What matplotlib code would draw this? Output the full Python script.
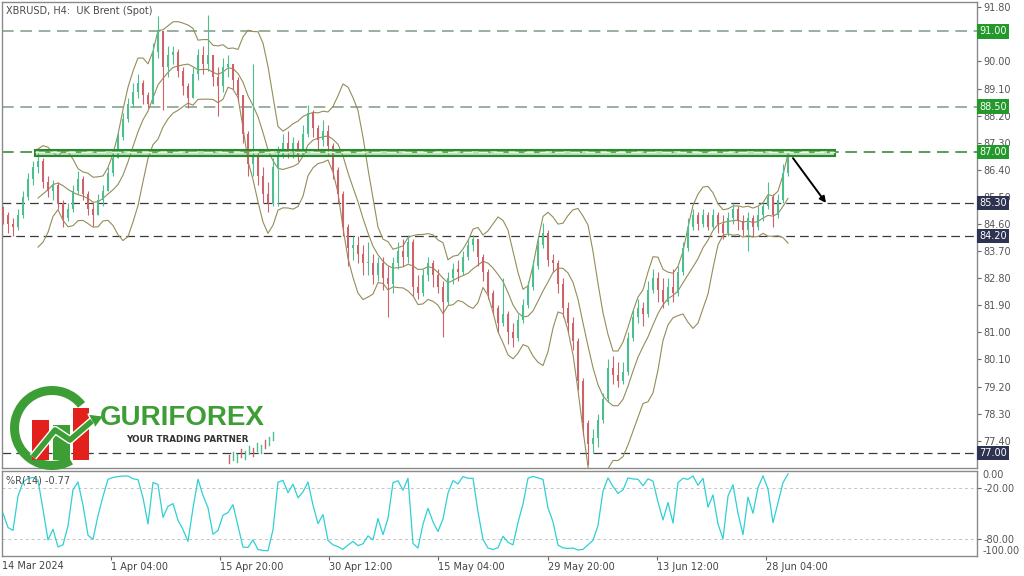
import numpy as np
import matplotlib
matplotlib.use("Agg")
import matplotlib.pyplot as plt
import matplotlib.transforms as mtransforms
import matplotlib.patheffects as pe
from matplotlib.patches import Rectangle, Wedge, Polygon

# ---------------- data ----------------
symbol_title = "XBRUSD, H4:  UK Brent (Spot)"
wr_label = "%R(14) -0.77"
first_open = 85.1
closes = [
    84.9, 84.6, 84.5, 84.9, 85.5, 86.1, 86.5, 86.7, 86.0, 85.7,
    85.9, 85.3, 84.8, 85.1, 85.7, 86.1, 85.6, 85.1, 84.9, 85.4,
    85.7, 86.3, 86.8, 87.5, 88.1, 88.6, 89.0, 89.3, 88.9, 88.6,
    90.3, 91.0, 89.8, 90.2, 90.3, 89.7, 89.2, 88.8, 89.6, 90.2,
    89.9, 90.2, 89.5, 89.2, 89.8, 89.9, 89.4, 88.9, 87.6, 86.6,
    86.9, 86.2, 85.6, 85.3, 86.5, 86.9, 87.3, 87.0, 87.3, 86.9,
    87.6, 88.3, 87.8, 87.4, 87.7, 87.2, 86.4, 85.6, 84.5, 83.8,
    83.9, 83.6, 83.3, 83.3, 82.9, 83.3, 82.8, 82.6, 83.3, 83.7,
    83.5, 84.0, 82.5, 82.3, 82.9, 83.3, 82.9, 82.5, 82.0, 82.8,
    83.1, 83.0, 83.5, 83.9, 84.1, 83.5, 83.0, 82.3, 81.8, 81.3,
    81.6, 81.0, 80.8, 81.4, 81.9, 82.5, 83.2, 83.9, 84.3, 83.4,
    83.3, 82.6, 81.8, 81.3, 80.7, 79.4, 78.0, 77.3, 77.5, 78.1,
    78.8, 79.8, 79.6, 79.4, 79.7, 80.8, 81.5, 81.8, 81.6, 82.4,
    82.8, 82.4, 82.0, 82.5, 82.3, 83.0, 83.8, 84.5, 84.9, 84.6,
    84.9, 84.5, 84.9, 84.6, 84.3, 84.8, 85.1, 84.7, 84.4, 84.8,
    84.5, 84.9, 85.2, 85.5, 84.9, 85.4, 86.3, 86.9]
highs = [
    85.2, 85.0, 84.8, 85.1, 85.7, 86.3, 86.7, 87.0, 86.8, 86.2,
    86.05, 86.0, 85.4, 85.3, 85.9, 86.35, 86.2, 85.7, 85.3, 85.6,
    85.9, 86.5, 87.0, 87.7, 88.3, 88.8, 89.3, 89.6, 89.4, 89.0,
    90.6, 91.5, 91.0, 90.5, 90.5, 90.4, 89.8, 89.3, 89.8, 90.4,
    90.5, 91.55, 90.2, 89.8, 90.1, 90.2, 89.9, 89.5, 88.9, 87.7,
    89.9, 87.0, 86.5, 86.0, 86.8, 87.2, 87.6, 87.7, 87.5, 87.4,
    87.9, 88.55, 88.4, 87.9, 88.05, 87.9, 87.3, 86.5, 85.7, 84.6,
    84.2, 84.2, 83.9, 84.0, 83.6, 83.5, 83.5, 83.2, 83.5, 84.0,
    84.1, 84.25, 84.1, 82.9, 83.1, 83.5, 83.4, 83.1, 82.7, 83.0,
    83.3, 83.4, 83.7, 84.1, 84.25, 84.1, 83.6, 83.1, 82.4, 81.9,
    82.8, 81.7, 81.3, 81.6, 82.1, 82.7, 83.4, 84.2, 84.65, 84.4,
    83.6, 83.4, 82.8, 82.0, 81.5, 80.8, 79.5, 78.1, 77.8, 78.3,
    79.0, 80.1, 80.2, 80.0, 80.0, 81.0, 81.75, 82.1, 82.0, 82.7,
    83.1, 83.0, 82.8, 82.8, 83.1, 83.2, 84.0, 84.8, 85.1, 85.0,
    85.1, 85.0, 85.1, 85.0, 84.9, 85.0, 85.3, 85.2, 84.9, 85.0,
    84.9, 85.2, 85.3, 86.0, 85.6, 85.6, 86.6, 87.0]
lows = [
    84.6, 84.3, 84.2, 84.4, 84.8, 85.4, 85.9, 86.3, 85.8, 85.5,
    85.4, 85.1, 84.5, 84.7, 85.0, 85.6, 85.4, 84.9, 84.55, 84.9,
    85.2, 85.7, 86.2, 86.8, 87.4, 88.0, 88.5, 88.8, 88.6, 88.45,
    88.6, 90.1, 88.4, 89.5, 89.9, 89.5, 88.9, 88.45, 88.8, 89.4,
    89.6, 89.7, 89.2, 88.2, 89.0, 89.5, 89.1, 88.7, 87.3, 86.2,
    86.2, 85.9, 85.3, 85.0, 85.2, 85.2, 86.8, 86.8, 86.8, 86.7,
    86.9, 87.5, 87.5, 87.1, 87.2, 86.9, 86.1, 85.3, 84.2, 83.2,
    83.4, 83.3, 82.9, 82.9, 82.6, 82.7, 82.4, 81.5, 82.3, 83.1,
    83.2, 83.3, 82.2, 82.1, 82.2, 82.7, 82.5, 82.3, 80.85, 81.9,
    82.6, 82.7, 82.9, 83.4, 83.7, 83.2, 82.7, 82.1, 81.6, 81.0,
    81.2, 80.6, 80.5, 80.7, 81.3, 81.8, 82.4, 83.1, 83.8, 83.2,
    83.0, 82.3, 81.5, 81.0, 80.4, 79.1, 77.6, 76.6, 77.0, 77.2,
    78.0, 78.7, 79.3, 79.2, 79.3, 79.6, 80.7, 81.3, 81.2, 81.5,
    82.3, 82.0, 81.8, 81.9, 82.0, 82.2, 82.9, 83.7, 84.4, 84.4,
    84.5, 84.4, 84.4, 84.3, 84.1, 84.2, 84.6, 84.4, 84.2, 83.7,
    84.2, 84.4, 84.7, 85.1, 84.5, 84.8, 85.3, 86.2]
green_levels = [91.00, 88.50, 87.00]
dark_levels = [85.30, 84.20, 77.00]
zone_low, zone_high = 86.87, 87.07
arrow_start_price, arrow_end_price = 86.79, 85.30
date_labels = ["14 Mar 2024", "1 Apr 04:00", "15 Apr 20:00", "30 Apr 12:00",
               "15 May 04:00", "29 May 20:00", "13 Jun 12:00", "28 Jun 04:00"]
wr_ticks = [-20, -80]
bb_period, bb_dev = 8, 2.0
wr_period = 5

# ---------------- computations ----------------
n = min(len(closes), len(highs), len(lows))
c = np.array(closes[:n]); h = np.array(highs[:n]); l = np.array(lows[:n])
o = np.r_[first_open, c[:-1]]
idx = np.arange(n)

bb_x, bb_mid, bb_up, bb_lo = [], [], [], []
for i in range(bb_period - 1, n):
    w = c[i - bb_period + 1:i + 1]
    m = w.mean(); s = w.std()
    bb_x.append(i); bb_mid.append(m); bb_up.append(m + bb_dev * s); bb_lo.append(m - bb_dev * s)

wr = []
for i in range(n):
    a = max(0, i - wr_period + 1)
    hh = h[a:i + 1].max(); ll = l[a:i + 1].min()
    wr.append(-100.0 * (hh - c[i]) / (hh - ll) if hh > ll else -50.0)

# ---------------- figure ----------------
W, H = 1024, 576
fig = plt.figure(figsize=(W / 100, H / 100), dpi=100)
fig.patch.set_facecolor("white")

def px_axes(x0, y0, x1, y1):
    return fig.add_axes([x0 / W, 1 - y1 / H, (x1 - x0) / W, (y1 - y0) / H])

ax = px_axes(2, 2, 977, 468)
ax2 = px_axes(2, 470.5, 977, 556)

x_left, x_right = -0.2, 194.8
for a in (ax, ax2):
    a.set_xlim(x_left, x_right)
    for sp in a.spines.values():
        sp.set_color("#8a8a8a"); sp.set_linewidth(1.0)
    a.set_facecolor("white")

ax.set_ylim(76.494, 91.976)
ax2.set_ylim(-100, 0)

bull, bear = "#4cbf8e", "#cd6268"
cols = [bull if cc >= oo else bear for oo, cc in zip(o, c)]
ax.vlines(idx, l, h, colors=cols, lw=0.8, zorder=4)
body_h = np.maximum(np.abs(c - o), 0.04)
ax.bar(idx, body_h, bottom=np.minimum(o, c), width=0.45, color=cols, lw=0, zorder=4)

band_col = "#948d58"
for yv in (bb_up, bb_mid, bb_lo):
    ax.plot(bb_x, yv, color=band_col, lw=0.8, zorder=3)

for v in green_levels[:2]:
    ax.axhline(v, color="#86a38c", lw=1.2, dashes=(7, 4), zorder=2)
ax.axhline(green_levels[2], color="#3c8c3c", lw=1.2, dashes=(7, 4), zorder=2)
for v in dark_levels:
    ax.axhline(v, color="#3a3a3a", lw=0.9, dashes=(7, 4), zorder=2)

# support/resistance zone
zone_x0, zone_x1 = 6.4, 166.4
ax.add_patch(Rectangle((zone_x0, zone_low), zone_x1 - zone_x0, zone_high - zone_low,
                       fc=(0.40, 0.72, 0.40, 0.45), ec="#2a8a2a", lw=1.5, zorder=5))
ax.plot([zone_x0, zone_x1], [green_levels[2]] * 2, color="#eaf6ea", lw=1.0,
        dashes=(7, 4), zorder=6)

ax.annotate("", xy=(164.6, arrow_end_price), xytext=(158.0, arrow_start_price),
            arrowprops=dict(arrowstyle="-|>", color="black", lw=1.4,
                            mutation_scale=9, shrinkA=0, shrinkB=0), zorder=8)

# price axis
price_ticks = np.round(np.arange(77.4, 91.81, 0.9), 2)
hidden_tick = 90.90  # fully covered by the 91.00 level box in the reference
ax.yaxis.tick_right()
ax.set_yticks(price_ticks)
ax.set_yticklabels(["" if abs(t - hidden_tick) < 1e-6 else f"{t:.2f}" for t in price_ticks])
ax.tick_params(axis="y", direction="out", length=3, width=0.8, color="#666666",
               labelsize=7, labelcolor="#555555", pad=1.5)
ax.set_xticks([])

trans = mtransforms.blended_transform_factory(ax.transAxes, ax.transData)
for v in green_levels:
    ax.text(1.0025, v, f"{v:.2f}", transform=trans, ha="left", va="center", fontsize=7,
            color="white", clip_on=False, zorder=20,
            bbox=dict(boxstyle="square,pad=0.22", fc="#22992a", ec="none"))
for v in dark_levels:
    ax.text(1.0025, v, f"{v:.2f}", transform=trans, ha="left", va="center", fontsize=7,
            color="white", clip_on=False, zorder=20,
            bbox=dict(boxstyle="square,pad=0.22", fc="#2d3350", ec="none"))

ax.text(0.004, 0.992, symbol_title, transform=ax.transAxes, ha="left", va="top",
        fontsize=7, color="#4a4a4a")

# Williams %R pane
ax2.plot(idx, wr, color="#2fd0d4", lw=0.9, zorder=3)
for v in wr_ticks:
    ax2.axhline(v, color="#c4c4c4", lw=0.7, dashes=(3, 3), zorder=1)
ax2.yaxis.tick_right()
ax2.set_yticks(wr_ticks)
ax2.set_yticklabels([f"{v:.2f}" for v in wr_ticks])
ax2.tick_params(axis="y", direction="out", length=3, width=0.8, color="#666666",
                labelsize=7, labelcolor="#555555", pad=1.5)
trans2 = mtransforms.blended_transform_factory(ax2.transAxes, ax2.transData)
ax2.text(1.006, 0, "0.00", transform=trans2, ha="left", va="top", fontsize=7,
         color="#555555", clip_on=False)
ax2.text(1.006, -100, "-100.00", transform=trans2, ha="left", va="bottom", fontsize=7,
         color="#555555", clip_on=False)
ax2.text(0.004, 0.88, wr_label, transform=ax2.transAxes, ha="left", va="center",
         fontsize=7, color="#4a4a4a")

label_step = 21.83
tick_pos = [21.6 + label_step * k for k in range(len(date_labels) - 1)]
ax2.set_xticks(tick_pos)
ax2.set_xticklabels(date_labels[1:])
ax2.tick_params(axis="x", direction="out", length=3, width=0.8, color="#666666",
                labelsize=7, labelcolor="#444444", pad=1.5)
for lbl in ax2.get_xticklabels():
    lbl.set_ha("left")
ax2.text(0.0, -0.06, date_labels[0], transform=ax2.transAxes, ha="left", va="top",
         fontsize=7, color="#444444")

# ---------------- logo overlay (pixel coordinates) ----------------
ov = fig.add_axes([0, 0, 1, 1], zorder=30)
ov.set_xlim(0, W); ov.set_ylim(H, 0); ov.axis("off")
ov.patch.set_alpha(0)
logo_green = "#3c9e34"
ov.add_patch(Wedge((52, 428), 42, 60, 322, width=9, fc=logo_green, ec="none"))
ov.add_patch(Rectangle((32, 420), 17, 40, fc="#e3211c", ec="none"))
ov.add_patch(Rectangle((53, 425), 17, 35, fc=logo_green, ec="none"))
ov.add_patch(Rectangle((73, 408), 16, 52, fc="#e3211c", ec="none"))
ov.plot([33, 55, 70, 92], [457, 430, 440, 421], color=logo_green, lw=4,
        solid_capstyle="butt",
        path_effects=[pe.Stroke(linewidth=6, foreground="white"), pe.Normal()])
ov.add_patch(Polygon([[88, 414], [104, 416], [95, 428]], closed=True,
                     fc=logo_green, ec="white", lw=1))
ov.text(100, 418, "GURIFOREX", ha="left", va="center", fontsize=20,
        fontweight="bold", color=logo_green,
        family=["Liberation Sans Narrow", "Liberation Sans", "DejaVu Sans"])
ov.text(126, 440, "YOUR TRADING PARTNER", ha="left", va="center", fontsize=6.3,
        fontweight="bold", color="#333333")
# small decorative chart strokes of the logo
deco_x = np.arange(229, 276, 4)
deco_top = [455, 452, 454, 449, 451, 446, 448, 443, 445, 440, 437, 432]
for k, (xx, yy) in enumerate(zip(deco_x, deco_top)):
    ov.plot([xx, xx], [yy, yy + 8], color=("#4cbf8e" if k % 3 else "#cd6268"), lw=1)

fig.savefig("out.png", dpi=100)
